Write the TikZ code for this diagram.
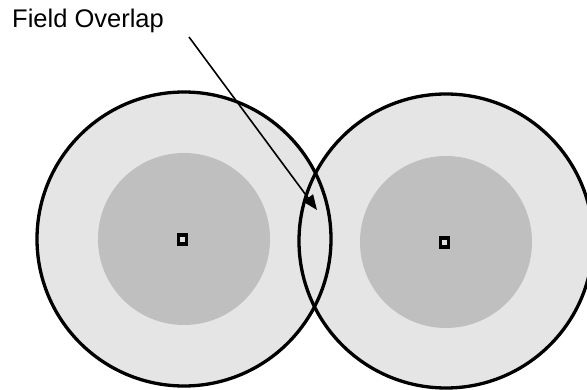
\documentclass[tikz,border=0pt]{standalone}
\usepackage{fontspec}
\setmainfont{Liberation Sans}
\usetikzlibrary{arrows.meta,positioning}

\begin{document}
\begin{tikzpicture}[
    x=1pt, y=-1pt,
    field/.style={circle, minimum size=294pt, inner sep=0pt, fill=black!10},
    rim/.style={circle, minimum size=294pt, inner sep=0pt, draw, line width=3.3pt},
    core/.style={circle, minimum size=172pt, inner sep=0pt, fill=black!25},
    sensor/.style={draw, line width=3.2pt, fill=black!12, minimum width=7.5pt, minimum height=9pt, inner sep=0pt}
]
\useasboundingbox (0,0) rectangle (587,390);
\clip (0,0) rectangle (587,390);

\node[field] (leftfield) at (184,239) {};
\node[field] (rightfield) at (446,241) {};
\node[rim] (leftrim) at (leftfield) {};
\node[rim] (rightrim) at (rightfield) {};

\node[core] (leftcore) at (leftfield) {};
\node[core] (rightcore) at (446,242) {};

\node[sensor] (leftsensor) at (182.5,239.5) {};
\node[sensor] (rightsensor) at (444.5,242.5) {};

\node[anchor=base west, inner sep=0pt, font=\fontsize{25.5}{30}\selectfont] (label) at (12,28) {Field Overlap};

\coordinate (tail) at (189,37);
\coordinate (overlap) at (317,210);
\draw[line width=1.6pt, -{Triangle[length=15pt, width=12pt]}] (tail) -- (overlap);
\end{tikzpicture}
\end{document}
